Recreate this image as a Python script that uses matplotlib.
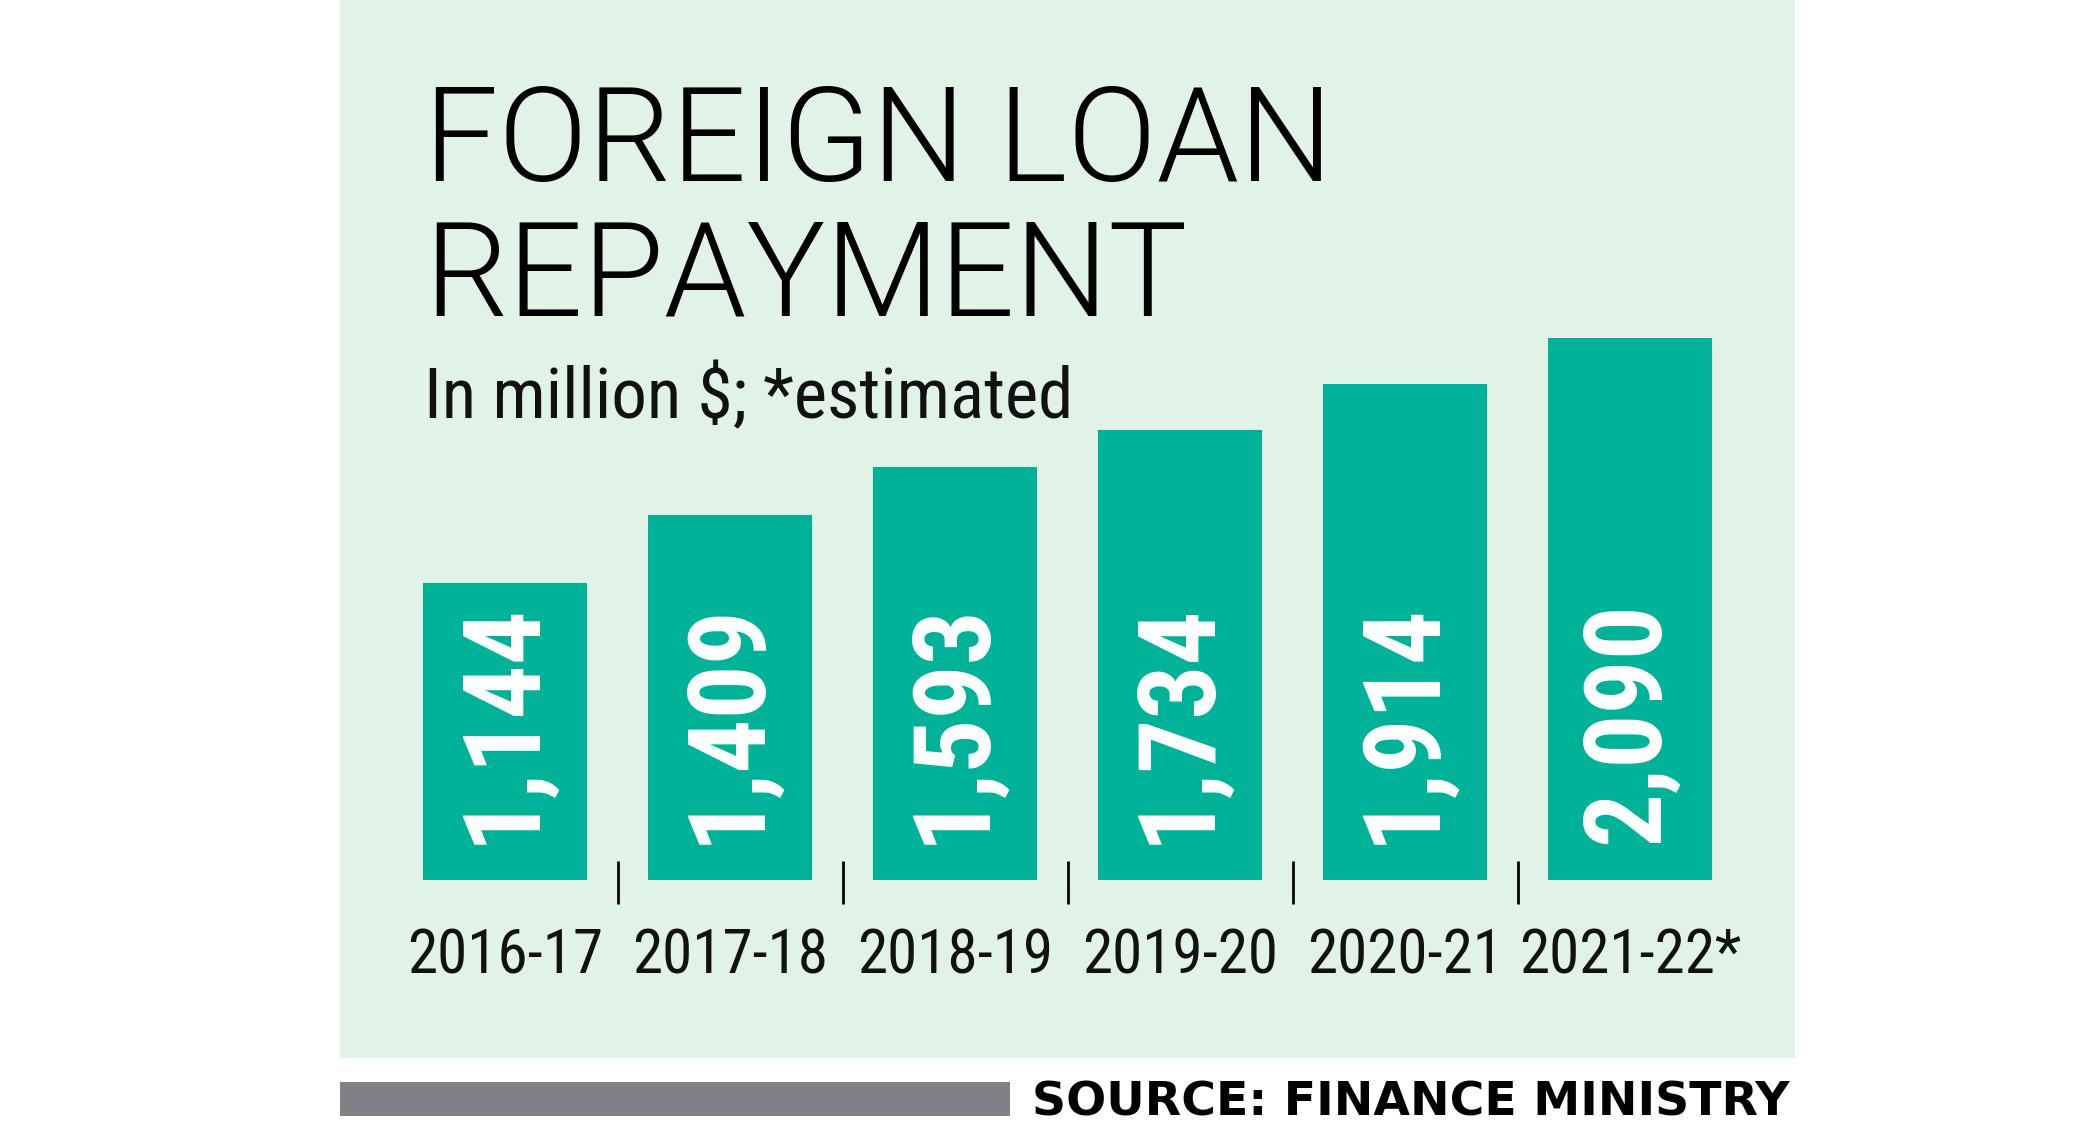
import matplotlib
matplotlib.use("Agg")
import matplotlib.pyplot as plt
from matplotlib.patches import Rectangle
from matplotlib.transforms import offset_copy

# ----- DATA -----
years = ["2016-17", "2017-18", "2018-19", "2019-20", "2020-21", "2021-22*"]
repayment = [1144, 1409, 1593, 1734, 1914, 2090]  # million $
value_labels = ["1,144", "1,409", "1,593", "1,734", "1,914", "2,090"]

title_lines = ["FOREIGN LOAN", "REPAYMENT"]
subtitle = "In million $; *estimated"
source = "SOURCE: FINANCE MINISTRY"

# ----- STYLE -----
W, H = 2100, 1138
PANEL = "#e1f2e6"
BAR = "#00b398"
GREY = "#808184"
COND = ["Roboto Condensed", "DejaVu Sans"]
LIGHT = ["Roboto", "DejaVu Sans"]

fig = plt.figure(figsize=(W / 100, H / 100), dpi=100, facecolor="white")

def fx(px):
    return px / W

def fy(py):
    return 1 - py / H

# light green panel and the grey strip next to the source line (behind the axes)
fig.patches.append(Rectangle((fx(340), fy(1058)), fx(1795) - fx(340), fy(0) - fy(1058),
                             transform=fig.transFigure, facecolor=PANEL, edgecolor="none", zorder=-2))
fig.patches.append(Rectangle((fx(340), fy(1116)), fx(1010) - fx(340), fy(1082) - fy(1116),
                             transform=fig.transFigure, facecolor=GREY, edgecolor="none", zorder=-2))

# title and subtitle
for line, base in zip(title_lines, [181, 316]):
    fig.text(fx(424), fy(base), line, family=LIGHT, weight=300, fontsize=95,
             color="black", va="baseline", ha="left")
fig.text(fx(424), fy(418), subtitle, family=COND, weight="normal", fontsize=51, color="#111111",
         va="baseline", ha="left")

fig.text(fx(1790), fy(1116), source, family="DejaVu Sans", weight="bold", fontsize=34,
         color="black", va="baseline", ha="right")

# ----- BARS -----
px_per_unit = 0.2593
ymax = 2400
ax_h = ymax * px_per_unit
ax = fig.add_axes([fx(392.5), (H - 880) / H, 1350 / W, ax_h / H])
ax.set_facecolor("none")
x = list(range(len(years)))
ax.bar(x, repayment, width=0.726, color=BAR, zorder=2)
ax.set_xlim(-0.5, len(years) - 0.5)
ax.set_ylim(0, ymax)
ax.axis("off")

# small separators between the year labels
ax.vlines([i + 0.5 for i in x[:-1]], -24 / px_per_unit, 19 / px_per_unit,
          color="black", linewidth=2, clip_on=False)

year_tr = offset_copy(ax.transData, fig=fig, x=0, y=-94, units="dots")
value_tr = offset_copy(ax.transData, fig=fig, x=-2, y=36, units="dots")
for i in x:
    ax.text(i, 0, years[i], transform=year_tr, family=COND, fontsize=44,
            color="#111111", ha="center", va="baseline")
    ax.text(i, 0, value_labels[i], transform=value_tr, family=COND, weight="bold",
            fontsize=77, color="white", rotation=90, ha="center", va="bottom", zorder=3)

fig.savefig("out.png", dpi=100, facecolor="white")
